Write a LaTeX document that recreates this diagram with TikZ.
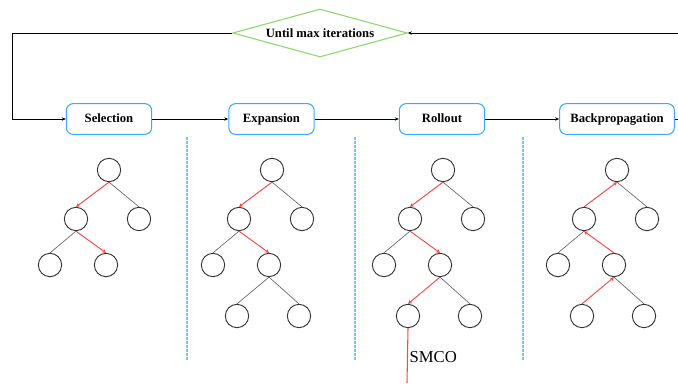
\documentclass[tikz,border=0pt]{standalone}
\usepackage{fontspec}
\setmainfont{Liberation Serif}
\usetikzlibrary{arrows.meta,shapes.geometric,positioning}
\definecolor{boxblue}{RGB}{60,170,250}
\definecolor{loopgreen}{RGB}{140,215,110}
\definecolor{sepblue}{RGB}{110,200,250}
\definecolor{pathred}{RGB}{250,70,70}
\tikzset{
  stage/.style={draw=boxblue, line width=0.8pt, rounded corners=5pt, minimum width=64pt,
    minimum height=23pt, inner xsep=8pt, text height=7pt, text depth=2pt,
    font=\bfseries\fontsize{9.5}{11}\selectfont},
  vtx/.style={circle, draw=black!80, line width=0.7pt, minimum size=17.5pt, inner sep=0pt},
  tedge/.style={draw=black!60, line width=0.5pt},
  redge/.style={draw=pathred, line width=0.7pt, -{Stealth[length=3pt,width=3pt]}},
  flow/.style={line width=0.7pt, -{Stealth[length=3pt,width=2.5pt]}},
}

\begin{document}
\begin{tikzpicture}[x=0.75pt,y=-0.75pt]
\useasboundingbox (0,0) rectangle (678,383);

\node[diamond, draw=loopgreen, line width=0.8pt, aspect=3.6, inner sep=0pt,
    minimum width=131pt, minimum height=36pt, font=\bfseries\fontsize{9.5}{11}\selectfont]
    (loop) at (320,33) {Until max iterations};

\node[stage] (sel) at (109,119) {Selection};
\node[stage] (exp) at (271.5,119) {Expansion};
\node[stage] (roll) at (442,119) {Rollout};
\node[stage] (bp) at (617,119) {Backpropagation};

\coordinate (lt) at (12,33);
\coordinate (rt) at (682,33);
\draw[flow] (loop.west) -- (lt) |- (sel.west);
\draw[flow] (bp.east) -| (rt) -- (loop.east);
\draw[flow] (sel) -- (exp);
\draw[flow] (exp) -- (roll);
\draw[flow] (roll) -- (bp);

\foreach \x in {187,355,523}
  \draw[sepblue, dashed, dash pattern=on 2pt off 1pt, line width=0.8pt] (\x,137) -- (\x,360);

% trees
\foreach \t/\x in {s/109,e/272,r/443,b/617}{
  \node[vtx] (\t0) at (\x,170) {};
  \node[vtx] (\t1) at (\x-33,219) {};
  \node[vtx] (\t2) at (\x+30,219) {};
  \node[vtx] (\t11) at (\x-59,265) {};
  \node[vtx] (\t12) at (\x-3,265) {};
  \draw[tedge] (\t0.south) -- (\t2.north);
  \draw[tedge] (\t1.south) -- (\t11.north);
}
\foreach \t/\x in {e/272,r/443,b/617}{
  \node[vtx] (\t121) at (\x-35,316) {};
  \node[vtx] (\t122) at (\x+27,316) {};
  \draw[tedge] (\t12.south) -- (\t122.north);
}
\draw[tedge] (e12.south) -- (e121.north);

\foreach \t in {s,e,r}{
  \draw[redge] (\t0.south) -- (\t1.north);
  \draw[redge] (\t1.south) -- (\t12.north);
}
\draw[redge] (r12.south) -- (r121.north);
\draw[redge] (b1.north) -- (b0.south);
\draw[redge] (b12.north) -- (b1.south);
\draw[redge] (b121.north) -- (b12.south);

\coordinate (rend) at (407,383);
\draw[pathred, line width=0.8pt] (r121.south) -- (rend);
\node[anchor=west, inner sep=1pt, font=\fontsize{12.5}{14}\selectfont] (smco) at (408,357) {SMCO};
\end{tikzpicture}
\end{document}
